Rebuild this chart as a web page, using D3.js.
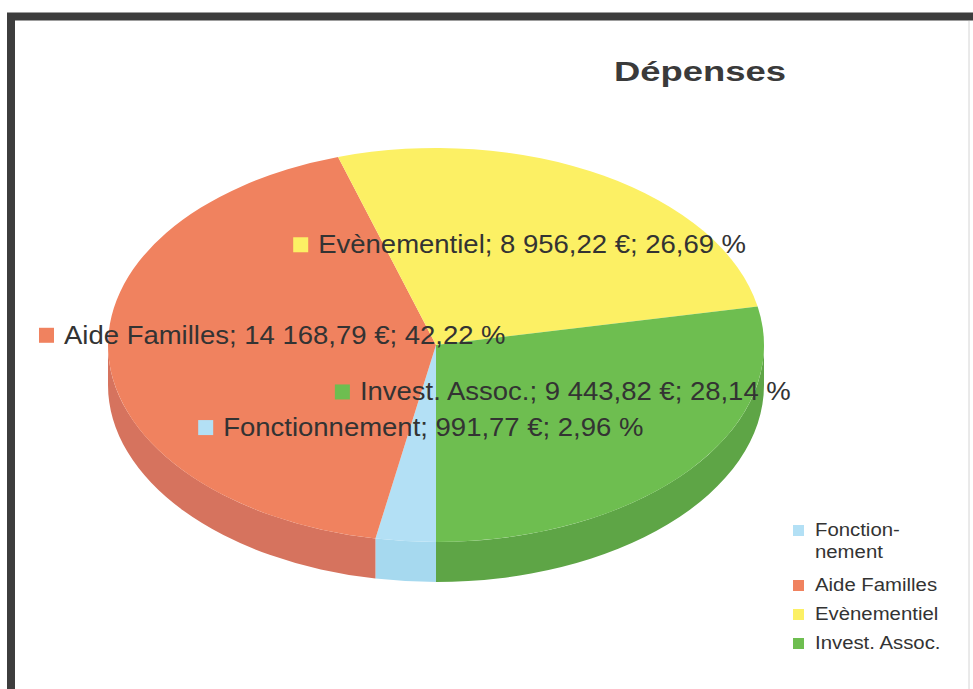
<!DOCTYPE html>
<html>
<head>
<meta charset="utf-8">
<script src="https://cdn.jsdelivr.net/npm/d3@7"></script>
<style>
    body { margin: 0; background: #fff; }
    svg { display: block; font-family: "Liberation Sans", Arial, sans-serif; }
</style>
</head>
<body>
<div class="chart"></div>
<script>
const categories = ["Fonctionnement", "Aide Familles", "Evènementiel", "Invest. Assoc."];
const amounts = [991.77, 14168.79, 8956.22, 9443.82];
const legendLines = [["Fonction-", "nement"], ["Aide Familles"], ["Evènementiel"], ["Invest. Assoc."]];
const chartTitle = "Dépenses";

const fullWidth = 973;
const fullHeight = 689;

// 3D pie geometry (top ellipse + side depth)
const cx = 436, cy = 345;
const rx = 328, ry = 197;
const depth = 40;

const topColor = d3.scaleOrdinal()
    .domain(categories)
    .range(["#b3e0f5", "#f0825f", "#fcf064", "#6ebe50"]);
const sideColor = d3.scaleOrdinal()
    .domain(categories)
    .range(["#a6d9ef", "#d6735e", "#e6d85a", "#5ea546"]);

const fr = d3.formatLocale({ decimal: ",", thousands: " ", grouping: [3], currency: ["", " €"] });
const fmtMoney = fr.format("$,.2f");
const fmtPct = fr.format(".2f");
const total = d3.sum(amounts);

const svg = d3.select(".chart")
    .append("svg")
    .attr("width", fullWidth)
    .attr("height", fullHeight);

// frame of the scanned page
svg.append("path")
    .attr("d", "M11," + fullHeight + " V16.5 H" + fullWidth)
    .attr("fill", "none")
    .attr("stroke", "#3d3d3d")
    .attr("stroke-width", 8);
svg.append("line")
    .attr("x1", 969).attr("x2", 969)
    .attr("y1", 21).attr("y2", fullHeight)
    .attr("stroke", "#d4d4d4")
    .attr("stroke-width", 1);

svg.append("text")
    .attr("x", 614)
    .attr("y", 81)
    .attr("textLength", 172)
    .attr("lengthAdjust", "spacingAndGlyphs")
    .style("font-size", "27px")
    .style("font-weight", "bold")
    .style("fill", "#3a3a3a")
    .text(chartTitle);

const pie = d3.pie()
    .value(d => d)
    .sort(null)
    .startAngle(Math.PI)
    .endAngle(3 * Math.PI);
const slices = pie(amounts);

const px = a => cx + rx * Math.sin(a);
const py = a => cy - ry * Math.cos(a);

// side walls: only the part facing the viewer
const front = [[Math.PI, 1.5 * Math.PI], [2.5 * Math.PI, 3 * Math.PI]];
const walls = [];
slices.forEach((d, i) => {
    front.forEach(f => {
        const a0 = Math.max(d.startAngle, f[0]);
        const a1 = Math.min(d.endAngle, f[1]);
        if (a1 > a0) walls.push({ i: i, a0: a0, a1: a1 });
    });
});

svg.append("g")
    .selectAll("path")
    .data(walls)
    .enter()
    .append("path")
    .attr("d", w => "M" + px(w.a0) + "," + py(w.a0) +
        " A" + rx + "," + ry + " 0 0 1 " + px(w.a1) + "," + py(w.a1) +
        " L" + px(w.a1) + "," + (py(w.a1) + depth) +
        " A" + rx + "," + ry + " 0 0 0 " + px(w.a0) + "," + (py(w.a0) + depth) + " Z")
    .attr("fill", w => sideColor(categories[w.i]));

const arc = d3.arc().innerRadius(0).outerRadius(rx);

svg.append("g")
    .attr("transform", "translate(" + cx + "," + cy + ") scale(1," + (ry / rx) + ")")
    .selectAll("path")
    .data(slices)
    .enter()
    .append("path")
    .attr("d", arc)
    .attr("fill", (d, i) => topColor(categories[i]));

// data labels
const labelFont = 25;
const stretch = 1.1;
const labels = svg.append("g")
    .selectAll("g")
    .data(slices)
    .enter()
    .append("g");

labels.each(function (d, i) {
    const g = d3.select(this);
    const c = arc.centroid(d);
    const ax = cx + c[0];
    const base = cy + c[1] * ry / rx - 7;
    const t = g.append("text")
        .attr("transform", "scale(" + stretch + ",1)")
        .style("font-size", labelFont + "px")
        .style("fill", "#333")
        .text(categories[i] + "; " + fmtMoney(amounts[i]) + "; " + fmtPct(amounts[i] / total * 100) + " %");
    const tw = t.node().getComputedTextLength() * stretch;
    const left = ax - (15 + 10 + tw) / 2;
    t.attr("transform", "translate(" + (left + 25) + "," + base + ") scale(" + stretch + ",1)");
    g.append("rect")
        .attr("x", left)
        .attr("y", base - 16)
        .attr("width", 15)
        .attr("height", 15)
        .attr("fill", topColor(categories[i]));
});

// legend
const legend = svg.append("g").attr("id", "legend");
let ly = 536;
legendLines.forEach((lines, i) => {
    legend.append("rect")
        .attr("x", 793)
        .attr("y", ly - 11)
        .attr("width", 11)
        .attr("height", 11)
        .attr("fill", topColor(categories[i]));
    lines.forEach((s, k) => {
        legend.append("text")
            .attr("transform", "translate(815," + (ly + k * 22) + ") scale(" + stretch + ",1)")
            .style("font-size", "18.5px")
            .style("fill", "#333")
            .text(s);
    });
    ly += 29 + (lines.length - 1) * 26;
});
</script>
</body>
</html>
